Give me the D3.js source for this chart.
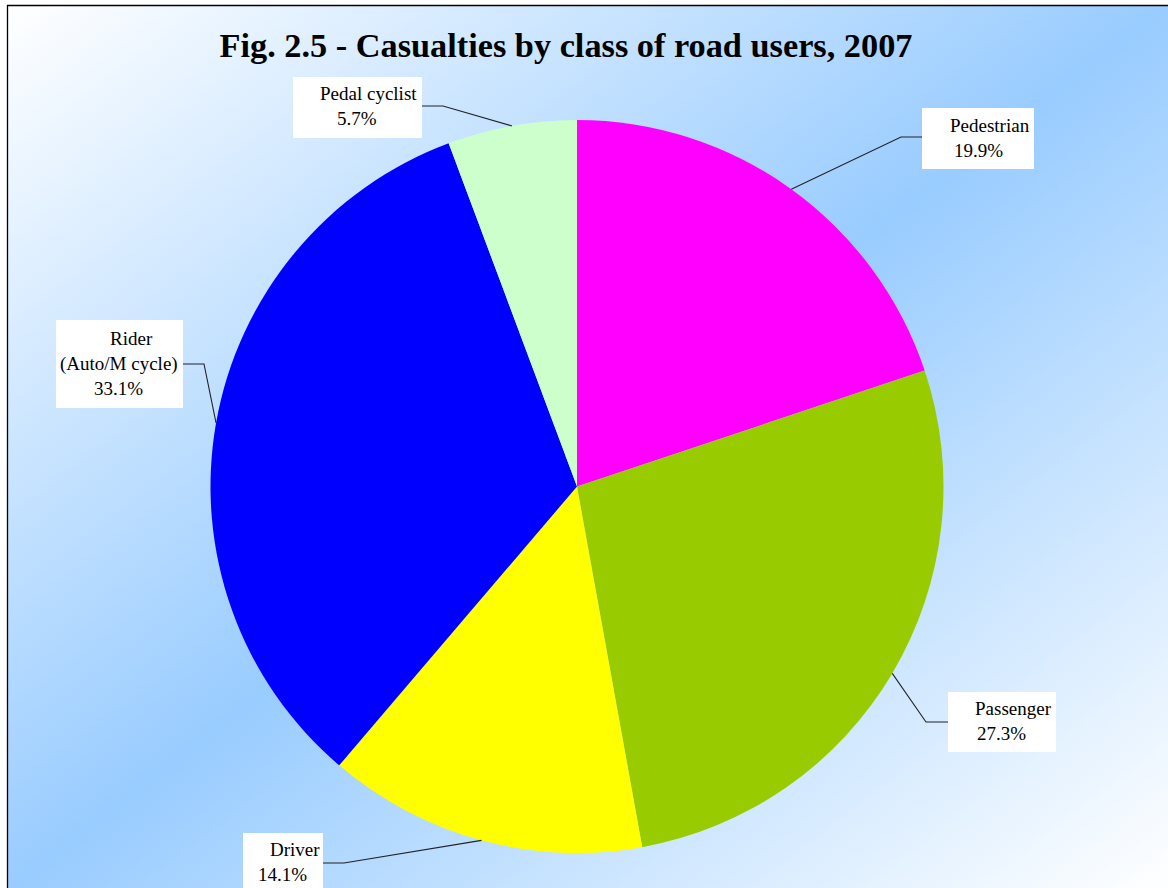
<!DOCTYPE html>
<html>
<head>
<meta charset="utf-8">
<script src="https://cdn.jsdelivr.net/npm/d3@7"></script>
<style>
  html, body { margin: 0; padding: 0; background: #ffffff; }
  svg { display: block; }
</style>
</head>
<body>
<svg id="chart" width="1168" height="888"></svg>
<script>
// ---- data ----
const categories = ["Pedestrian", "Passenger", "Driver", "Rider (Auto/M cycle)", "Pedal cyclist"];
const labelLines = [["Pedestrian"], ["Passenger"], ["Driver"], ["Rider", "(Auto/M cycle)"], ["Pedal cyclist"]];
const shares = [19.9, 27.3, 14.1, 33.1, 5.7];
const colors = ["#ff00ff", "#99cc00", "#ffff00", "#0000ff", "#ccffcc"];
const title = "Fig. 2.5 - Casualties by class of road users, 2007";

// ---- layout (positions only) ----
const W = 1168, H = 888;
const cx = 577, cy = 486.5, R = 366.5;
const labelLayout = [
  { box: [922, 108, 112, 61], attach: [922, 137], elbow: [901, 137], xs: [950, 954], y0: 132 },
  { box: [948, 692, 108, 60], attach: [948, 722], elbow: [926, 722], xs: [975, 977], y0: 715 },
  { box: [243, 833, 80, 62], attach: [323, 863], elbow: [344, 863], xs: [270, 258], y0: 856 },
  { box: [56, 320, 127, 88], attach: [183, 364], elbow: [204, 364], xs: [110, 60, 94], y0: 345 },
  { box: [293, 77, 129, 61], attach: [422, 106], elbow: [443, 106], xs: [320, 337], y0: 100 }
];
const lineH = 25;
const serif = "'Liberation Serif','Times New Roman',serif";

const svg = d3.select("#chart");
const defs = svg.append("defs");
const grad = defs.append("linearGradient").attr("id", "bg")
  .attr("x1", "0").attr("y1", "0").attr("x2", "1").attr("y2", "1");
grad.append("stop").attr("offset", "0").attr("stop-color", "#ffffff");
grad.append("stop").attr("offset", "0.5").attr("stop-color", "#99ccff");
grad.append("stop").attr("offset", "1").attr("stop-color", "#ffffff");

svg.append("rect").attr("x", 7.5).attr("y", 5.5).attr("width", W - 7).attr("height", H - 5)
  .attr("fill", "url(#bg)");
svg.append("path").attr("d", `M7.5,${H} L7.5,5.5 L${W},5.5`)
  .attr("fill", "none").attr("stroke", "#000").attr("stroke-width", 1.3);

svg.append("text").attr("x", 566).attr("y", 57).attr("text-anchor", "middle")
  .attr("font-family", serif)
  .attr("font-weight", "bold").attr("font-size", 34.3).attr("fill", "#000")
  .text(title);

const pie = d3.pie().sort(null).value(d => d)(shares);
const arc = d3.arc().innerRadius(0).outerRadius(R);
const g = svg.append("g").attr("transform", `translate(${cx},${cy})`);
g.selectAll("path.slice").data(pie).enter().append("path")
  .attr("class", "slice")
  .attr("d", arc)
  .attr("fill", (d, i) => colors[i]);

pie.forEach((d, i) => {
  const L = labelLayout[i];
  const mid = (d.startAngle + d.endAngle) / 2;
  const px = cx + R * Math.sin(mid), py = cy - R * Math.cos(mid);
  svg.append("polyline")
    .attr("points", `${px},${py} ${L.elbow[0]},${L.elbow[1]} ${L.attach[0]},${L.attach[1]}`)
    .attr("fill", "none").attr("stroke", "#222").attr("stroke-width", 1.1);
});

pie.forEach((d, i) => {
  const L = labelLayout[i];
  svg.append("rect").attr("x", L.box[0]).attr("y", L.box[1])
    .attr("width", L.box[2]).attr("height", L.box[3]).attr("fill", "#ffffff");
  const lines = labelLines[i].concat([d3.format(".1f")(shares[i]) + "%"]);
  lines.forEach((t, j) => {
    svg.append("text").attr("x", L.xs[j]).attr("y", L.y0 + j * lineH)
      .attr("font-family", serif)
      .attr("font-size", 19).attr("fill", "#000")
      .text(t);
  });
});
</script>
</body>
</html>
